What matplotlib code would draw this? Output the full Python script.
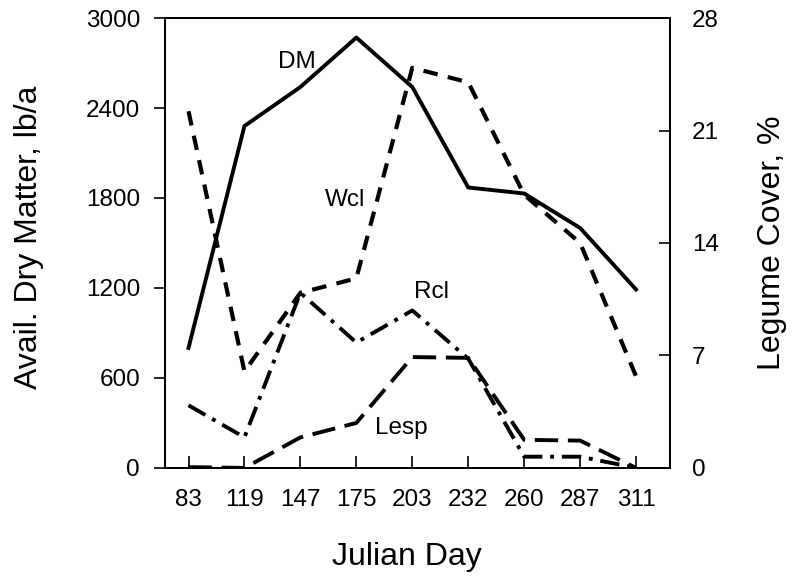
import numpy as np
from matplotlib import pyplot as plt

plt.rcParams['font.family'] = ['Liberation Sans', 'DejaVu Sans']

days = ['83', '119', '147', '175', '203', '232', '260', '287', '311']
dm = [800, 2280, 2540, 2870, 2540, 1870, 1830, 1600, 1190]
wcl = [22.2, 6.0, 10.9, 11.8, 24.9, 24.0, 17.0, 14.0, 5.7]
rcl = [3.9, 1.9, 10.9, 7.8, 9.8, 6.8, 0.7, 0.7, 0.0]
lesp = [0.05, 0.0, 1.9, 2.8, 6.9, 6.85, 1.75, 1.7, 0.0]

x = np.arange(len(days))

fig = plt.figure(figsize=(8.01, 5.82), dpi=100)
ax = fig.add_axes([0.206, 0.196, 0.63, 0.773])
ax2 = ax.twinx()

ax.plot(x, dm, color='black', ls='-', lw=2.8)
ax2.plot(x, wcl, color='black', ls=(0, (3.5, 2.5)), lw=3.0)
ax2.plot(x, rcl, color='black', ls=(0, (5, 2, 1, 2)), lw=2.8)
ax2.plot(x, lesp, color='black', ls=(0, (6, 2.5)), lw=2.8)

ax.set_xlim(-0.42, 8.6)
ax.set_ylim(0, 3000)
ax2.set_ylim(0, 28)
ax.set_yticks([0, 600, 1200, 1800, 2400, 3000])
ax2.set_yticks([0, 7, 14, 21, 28])
ax.set_xticks(x)
ax.set_xticklabels(days)

ax.tick_params(axis='y', direction='out', length=8, width=1.2, labelsize=17.5, pad=10)
ax.tick_params(axis='x', direction='in', length=9, width=1.2, labelsize=17.5, pad=15)
ax2.tick_params(axis='y', direction='in', length=8, width=1.2, labelsize=17.5, pad=16)
for a in (ax, ax2):
    for s in a.spines.values():
        s.set_linewidth(1.4)

ax.set_ylabel('Avail. Dry Matter, lb/a', fontsize=23)
ax.yaxis.set_label_coords(-0.24, 0.513)
ax2.set_ylabel('Legume Cover, %', fontsize=23)
ax2.yaxis.set_label_coords(1.174, 0.5)
ax.set_xlabel('Julian Day', fontsize=23)
ax.xaxis.set_label_coords(0.479, -0.165)

ax.text(1.93, 2707, 'DM', fontsize=17.5, ha='center', va='center')
ax2.text(2.8, 16.7, 'Wcl', fontsize=17.5, ha='center', va='center')
ax2.text(4.35, 10.95, 'Rcl', fontsize=17.5, ha='center', va='center')
ax2.text(3.81, 2.5, 'Lesp', fontsize=17.5, ha='center', va='center')

fig.savefig('out.png')
